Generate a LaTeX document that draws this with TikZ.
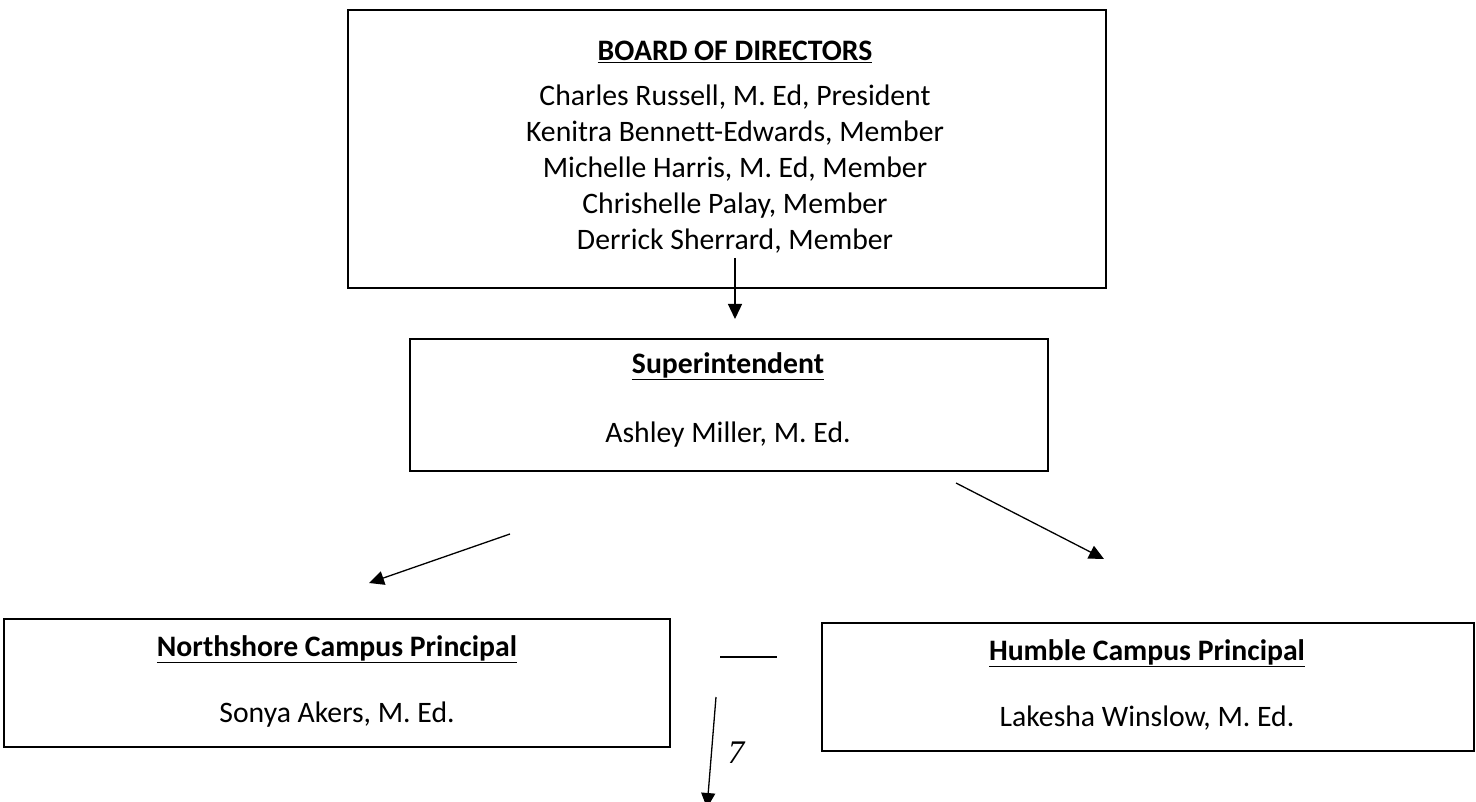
\documentclass[tikz,border=0pt]{standalone}
\usepackage{fontspec}
\setmainfont{Carlito}[Ligatures=NoCommon]
\newfontfamily\seriffont{Liberation Serif}
\usetikzlibrary{arrows.meta}
\begin{document}
\begin{tikzpicture}[x=1pt,y=-1pt,
  box/.style={draw,line width=1.6pt,inner sep=0pt,anchor=north west},
  ttl/.style={font=\fontsize{29.7}{33}\selectfont\bfseries,inner sep=0pt},
  txt/.style={font=\fontsize{29.7}{36}\selectfont,inner sep=0pt,anchor=base},
  arr/.style={line width=1.3pt,-{Triangle[length=15pt,width=14pt]}}]
\useasboundingbox (0,0) rectangle (1476,802);
% boxes
\node[box,minimum width=758pt,minimum height=278pt] (board) at (347,9) {};
\node[box,minimum width=638pt,minimum height=132pt] (sup) at (409,338) {};
\node[box,minimum width=666pt,minimum height=128pt] (north) at (3,618) {};
\node[box,minimum width=652pt,minimum height=128pt] (humble) at (821,622) {};
% texts
\node[ttl] (boardT) at (735,52) {\underline{BOARD OF DIRECTORS}};
\node[txt] (boardL1) at (735,106) {Charles Russell, M. Ed, President};
\node[txt] (boardL2) at (735,142) {Kenitra Bennett-Edwards, Member};
\node[txt] (boardL3) at (735,178) {Michelle Harris, M. Ed, Member};
\node[txt] (boardL4) at (735,214) {Chrishelle Palay, Member};
\node[txt] (boardL5) at (735,250) {Derrick Sherrard, Member};
\node[ttl] (supT) at (728,366) {\underline{Superintendent}};
\node[txt] (supN) at (728,442) {Ashley Miller, M. Ed.};
\node[ttl] (northT) at (337,649) {\underline{Northshore Campus Principal}};
\node[txt] (northN) at (337,722) {Sonya Akers, M. Ed.};
\node[ttl] (humbleT) at (1147,653) {\underline{Humble Campus Principal}};
\node[txt] (humbleN) at (1147,726) {Lakesha Winslow, M. Ed.};
\node[font=\seriffont\itshape\fontsize{33}{36}\selectfont,inner sep=0pt,anchor=base] (seven) at (736,763) {7};
% connector end points
\coordinate (a1) at (735,258);
\coordinate (a2) at (735,319);
\coordinate (l1) at (510,534);
\coordinate (l2) at (369,583);
\coordinate (r1) at (956,483);
\coordinate (r2) at (1104,559);
\coordinate (d1) at (716,697);
\coordinate (d2) at (707,808);
\coordinate (h1) at (720,657);
\coordinate (h2) at (777,657);
% connectors
\draw[arr] (a1) -- (a2);
\draw[arr] (l1) -- (l2);
\draw[arr] (r1) -- (r2);
\draw[arr] (d1) -- (d2);
\draw[line width=1.3pt] (h1) -- (h2);
\end{tikzpicture}
\end{document}
